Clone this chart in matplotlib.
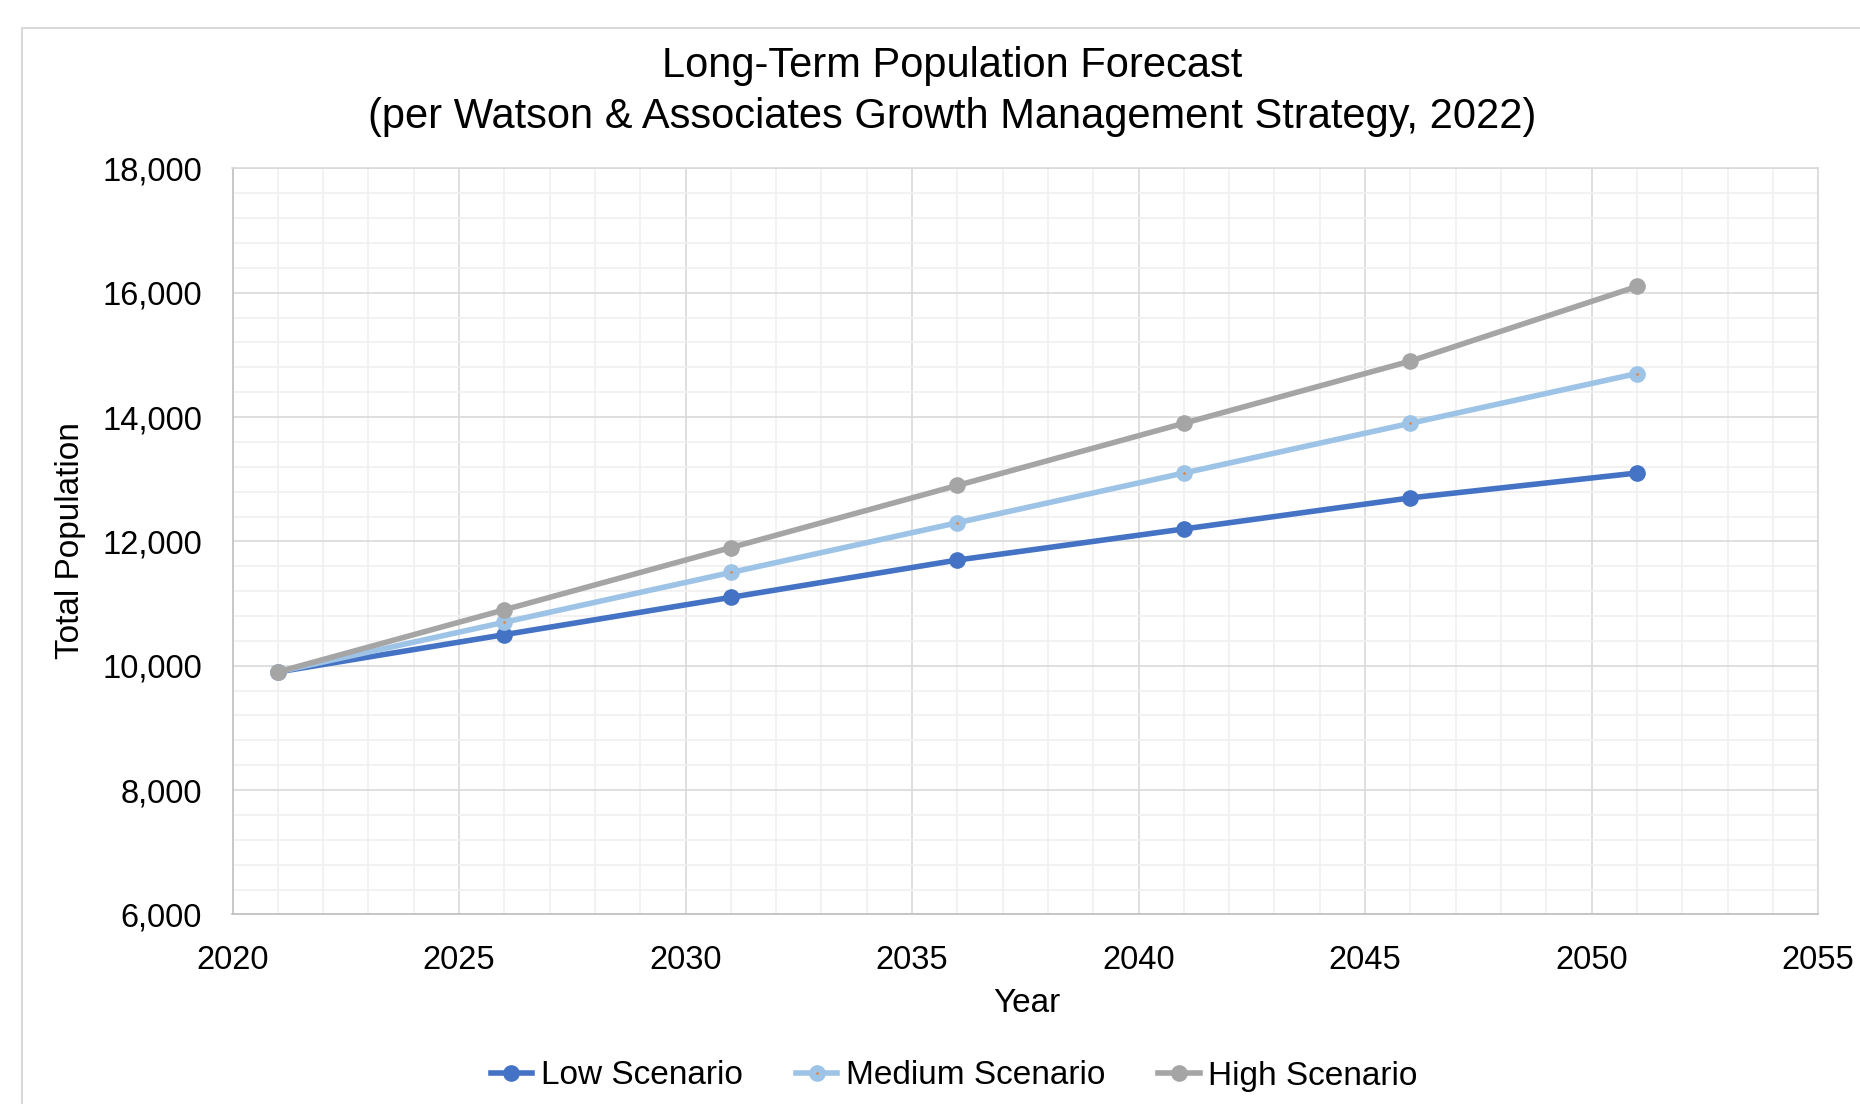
import matplotlib
matplotlib.use("Agg")
import matplotlib.pyplot as plt
from matplotlib.ticker import MultipleLocator, FuncFormatter
from matplotlib.patches import Rectangle

plt.rcParams['font.family'] = ['Liberation Sans', 'DejaVu Sans']

years = [2021, 2026, 2031, 2036, 2041, 2046, 2051]
low = [9900, 10500, 11100, 11700, 12200, 12700, 13100]
medium = [9900, 10700, 11500, 12300, 13100, 13900, 14700]
high = [9900, 10900, 11900, 12900, 13900, 14900, 16100]

fig = plt.figure(figsize=(18.6, 11.04), dpi=100)
ax = fig.add_axes([0.125, 0.1717, 0.8525, 0.6758])

# chart area border (runs off the right and bottom of the image)
fig.patches.append(Rectangle((22 / 1860, -0.2), 1.3, 1.2 - 28 / 1104,
                             transform=fig.transFigure, fill=False,
                             edgecolor='#D9D9D9', linewidth=1.5))

ax.plot(years, low, color='#4472C4', linewidth=4, marker='o',
        markersize=12, markeredgewidth=0, label='Low Scenario', zorder=3)
ax.plot(years, medium, color='#9DC3E6', linewidth=4, marker='o',
        markersize=7, markeredgewidth=5, markeredgecolor='#9DC3E6',
        markerfacecolor='#ED7D31', label='Medium Scenario', zorder=4)
ax.plot(years, high, color='#A5A5A5', linewidth=4, marker='o',
        markersize=12, markeredgewidth=0, label='High Scenario', zorder=5)

ax.set_xlim(2020, 2055)
ax.set_ylim(6000, 18000)
ax.xaxis.set_major_locator(MultipleLocator(5))
ax.xaxis.set_minor_locator(MultipleLocator(1))
ax.yaxis.set_major_locator(MultipleLocator(2000))
ax.yaxis.set_minor_locator(MultipleLocator(400))
ax.yaxis.set_major_formatter(FuncFormatter(lambda v, p: f'{int(v):,}'))

ax.grid(which='major', color='#D9D9D9', linewidth=1.2, zorder=1)
ax.grid(which='minor', color='#F0F0F0', linewidth=1.2, zorder=0)
ax.set_axisbelow(True)
for s in ax.spines.values():
    s.set_color('#D9D9D9')
    s.set_linewidth(1.2)
ax.spines['left'].set_color('#BFBFBF')
ax.spines['bottom'].set_color('#BFBFBF')

ax.tick_params(which='both', length=0)
ax.tick_params(axis='y', labelsize=23.5, pad=22)
ax.tick_params(axis='x', labelsize=23.5, pad=22)

fig.text(0.512, 1 - 66 / 1104, 'Long-Term Population Forecast',
         ha='center', va='center', fontsize=30)
fig.text(0.512, 1 - 117 / 1104,
         '(per Watson & Associates Growth Management Strategy, 2022)',
         ha='center', va='center', fontsize=30)
fig.text(1027 / 1860, 1 - 1004 / 1104, 'Year', ha='center', va='center',
         fontsize=24)
fig.text(71 / 1860, 1 - 541 / 1104, 'Total Population', ha='center',
         va='center', rotation=90, fontsize=24)

fig.legend(loc='center', bbox_to_anchor=(0.513, 1 - 1076 / 1104), ncol=3,
           frameon=False, fontsize=24, handlelength=1.25, handletextpad=0.25,
           columnspacing=1.6)

fig.savefig('out.png', dpi=100)
